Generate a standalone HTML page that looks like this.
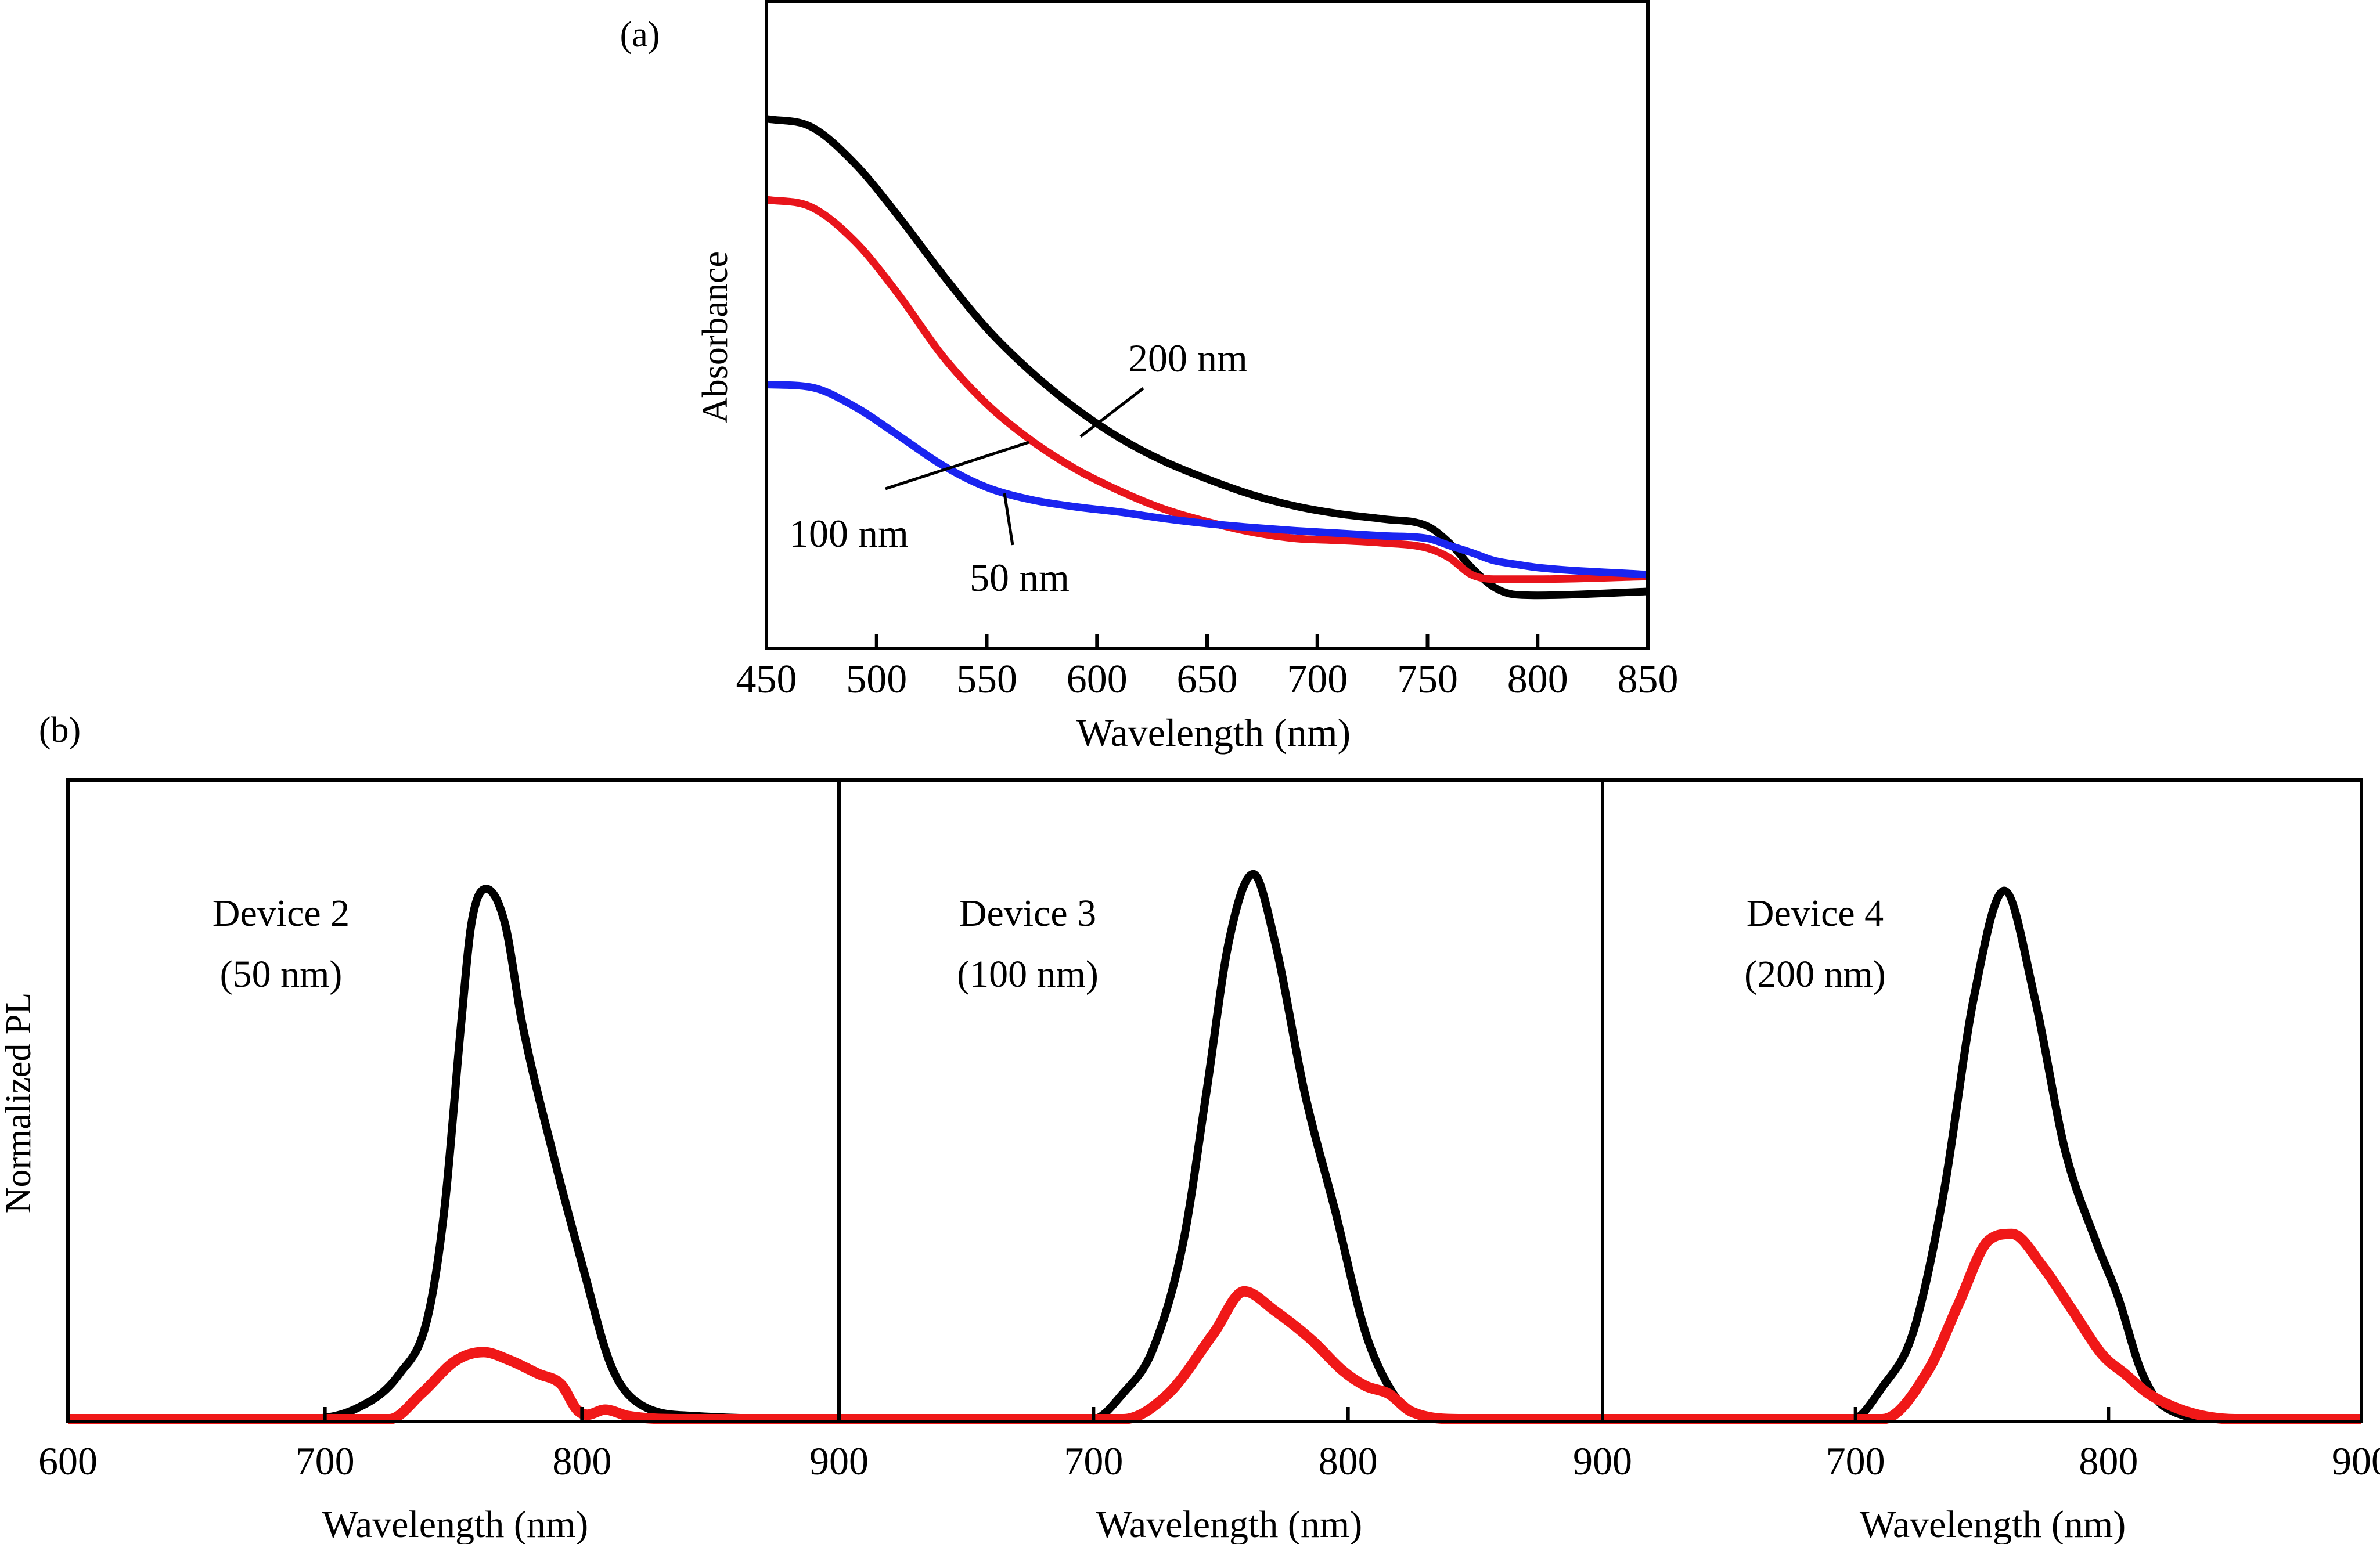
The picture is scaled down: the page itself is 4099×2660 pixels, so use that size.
<!DOCTYPE html>
<html><head><meta charset="utf-8"><style>
html,body{margin:0;padding:0;background:#fff;}
svg{display:block;}
text{font-family:"Liberation Serif",serif;fill:#000;}
</style></head>
<body>
<svg id="fig" width="4099" height="2660" viewBox="0 0 4099 2660" xmlns="http://www.w3.org/2000/svg">
<rect width="4099" height="2660" fill="#fff"/>
<g id="topchart"></g>
<g id="bottom"></g>
</svg>
<script>
// ---------- Panel (a) data ----------
const absX = [450,470,490,510,530,550,570,590,610,630,650,670,690,710,730,750,760,770,780,790,800,850];
const abs200 = [81.9,80.7,75,66.8,57.8,49.5,42.8,37.2,32.6,29,26.2,23.8,22,20.8,20,18.9,16.3,12.5,9.5,8.3,8.2,8.8];
const abs100 = [69.4,68.3,63,54.7,45.2,37.8,32.2,27.8,24.4,21.6,19.6,18,17,16.7,16.3,15.5,14,11.4,10.7,10.7,10.7,11.1];
const abs50  = [40.8,40.4,37.4,32.9,28.3,24.9,23,21.9,21.1,20.1,19.3,18.7,18.2,17.8,17.4,17,15.9,14.8,13.6,13,12.5,11.4];
const absTicks = [450,500,550,600,650,700,750,800,850];

// ---------- Panel (b) data ----------
const plTicks = [600,700,800,900];
const p1BlackX = [600,688,711.8,729,740,746.5,753,757,762.7,770,776.7,789.7,800.5,811.3,822,843.8,900];
const p1BlackY = [0,0,0.016,0.071,0.16,0.33,0.62,0.776,0.83,0.776,0.62,0.40,0.236,0.084,0.025,0.005,0];
const p1RedX = [600,725,738,751,761.6,772,783,792,798,802,809,818,840,900];
const p1RedY = [0,0,0.042,0.092,0.105,0.092,0.071,0.054,0.015,0.007,0.015,0.005,0,0];
const p2BlackX = [600,699.6,711.5,723.4,735.4,744.3,753.3,762.8,771.1,783,795,806.9,815.9,824.8,845,900];
const p2BlackY = [0,0,0.04,0.11,0.28,0.51,0.75,0.853,0.75,0.51,0.325,0.135,0.052,0.012,0,0];
const p2RedX = [600,711.5,729.4,747.3,759.2,771.1,786,797.9,806.9,815.9,824.8,845,900];
const p2RedY = [0,0,0.04,0.135,0.2,0.17,0.123,0.076,0.052,0.04,0.012,0,0];
const p3BlackX = [600,698.6,710.6,722.7,734.7,746.8,758.8,770.8,782.9,794.9,803.9,812.9,821.9,845,900];
const p3BlackY = [0,0,0.05,0.135,0.35,0.66,0.827,0.66,0.42,0.28,0.19,0.076,0.02,0,0];
const p3RedX = [600,710.6,728.7,740.7,752.7,761.8,773.8,785.8,797.8,806.8,815.8,830.9,850,900];
const p3RedY = [0,0,0.076,0.18,0.28,0.29,0.24,0.17,0.1,0.07,0.04,0.012,0,0];
const plPanels = ["Device 2","Device 3","Device 4"];
const plThick = ["(50 nm)","(100 nm)","(200 nm)"];

const NS = "http://www.w3.org/2000/svg";
function mk(tag, attrs, parent){const e=document.createElementNS(NS,tag);for(const k in attrs)e.setAttribute(k,attrs[k]);parent.appendChild(e);return e;}
// monotone cubic (Fritsch-Carlson) path, no overshoot
function smoothPath(pts){
  const n=pts.length;
  const dx=[],m=[],t=new Array(n);
  for(let i=0;i<n-1;i++){dx.push(pts[i+1][0]-pts[i][0]);m.push((pts[i+1][1]-pts[i][1])/dx[i]);}
  t[0]=m[0];t[n-1]=m[n-2];
  for(let i=1;i<n-1;i++){t[i]=(m[i-1]*m[i]<=0)?0:(m[i-1]+m[i])/2;}
  for(let i=0;i<n-1;i++){
    if(m[i]===0){t[i]=0;t[i+1]=0;continue;}
    const a=t[i]/m[i],b=t[i+1]/m[i],s=a*a+b*b;
    if(s>9){const k=3/Math.sqrt(s);t[i]=k*a*m[i];t[i+1]=k*b*m[i];}
  }
  let d="M"+pts[0][0].toFixed(1)+","+pts[0][1].toFixed(1);
  for(let i=0;i<n-1;i++){
    const h=dx[i]/3;
    d+=" C"+(pts[i][0]+h).toFixed(1)+","+(pts[i][1]+t[i]*h).toFixed(1)+" "+(pts[i+1][0]-h).toFixed(1)+","+(pts[i+1][1]-t[i+1]*h).toFixed(1)+" "+pts[i+1][0].toFixed(1)+","+pts[i+1][1].toFixed(1);
  }
  return d;
}

// ---------- Draw panel (a) ----------
const topG = document.getElementById('topchart');
const aL=1320,aR=2838,aT=3,aB=1117;
const ax = v => aL+(v-450)/(850-450)*(aR-aL);
const ay = v => aB-(v/100)*(aB-aT);
function drawAbs(ys,color,name){
  const p=mk('path',{d:smoothPath(absX.map((x,i)=>[ax(x),ay(ys[i])])),fill:'none',stroke:color,'stroke-width':13,'stroke-linejoin':'round'},topG);
  
  
}
drawAbs(abs200,'#000','curve-200nm');
drawAbs(abs100,'#e8141b','curve-100nm');
drawAbs(abs50,'#1a24f0','curve-50nm');
const frA=mk('rect',{x:aL,y:aT,width:aR-aL,height:aB-aT,fill:'none',stroke:'#000','stroke-width':6},topG);


absTicks.forEach(t=>{
  const l=mk('line',{x1:ax(t),x2:ax(t),y1:aB,y2:aB-25,stroke:'#000','stroke-width':6},topG);
  
  
  const tx=mk('text',{x:ax(t),y:1193,'font-size':70,'text-anchor':'middle'},topG);
  tx.textContent=t;
  
  
});

function T(x,y,s,txt,name,extra){const e=document.createElementNS(NS,'text');e.setAttribute('x',x);e.setAttribute('y',y);e.setAttribute('font-size',s);e.setAttribute('text-anchor','middle');if(extra)e.setAttribute('transform',extra);e.textContent=txt;


topG.appendChild(e);return e;}
function Ln(x1,y1,x2,y2,name){const e=document.createElementNS(NS,'line');e.setAttribute('x1',x1);e.setAttribute('y1',y1);e.setAttribute('x2',x2);e.setAttribute('y2',y2);e.setAttribute('stroke','#000');e.setAttribute('stroke-width',5);


topG.appendChild(e);}
T(1102,80,62,'(a)','panel-label-a');
T(2090,1285,68,'Wavelength (nm)','x-axis-title-a');
T(1252,581,62,'Absorbance','y-axis-title-a','rotate(-90 1252 581)');
T(2046,640,68,'200 nm','annotation-200nm');
T(1462,942,68,'100 nm','annotation-100nm');
T(1756,1018,68,'50 nm','annotation-50nm');
Ln(1969,669,1861,752,'leader-200nm');
Ln(1525,842,1772,762,'leader-100nm');
Ln(1730,850,1744,939,'leader-50nm');

// ---------- Draw panel (b) ----------
const g=document.getElementById('bottom');
const bT=1344,bB=2449,base=2445;
const edges=[117,1445,2760,4067];
const series=[[p1BlackX,p1BlackY,p1RedX,p1RedY],[p2BlackX,p2BlackY,p2RedX,p2RedY],[p3BlackX,p3BlackY,p3RedX,p3RedY]];
for(let i=0;i<3;i++){
  const L=edges[i],R=edges[i+1];
  const px=v=>L+(v-600)/300*(R-L);
  const py=v=>base-v*(base-bT);
  const s=series[i];
  const b=mk('path',{d:smoothPath(s[0].map((x,j)=>[px(x),py(s[1][j])])),fill:'none',stroke:'#000','stroke-width':14,'stroke-linejoin':'round'},g);
  
  
  const r=mk('path',{d:smoothPath(s[2].map((x,j)=>[px(x),py(s[3][j])])),fill:'none',stroke:'#f01818','stroke-width':18,'stroke-linejoin':'round'},g);
  
  
  plTicks.forEach(t=>{
    if(t>600&&t<900){
      const tk=mk('line',{x1:px(t),x2:px(t),y1:bB,y2:bB-25,stroke:'#000','stroke-width':6},g);
      
      
    }
    if(t===600 && i>0) return;
    const tx=mk('text',{x:px(t),y:2540,'font-size':68,'text-anchor':'middle'},g);
    tx.textContent=t;
    
    
  });
  const cx=[484,1770,3126][i];
  const d1=mk('text',{x:cx,y:1595,'font-size':66,'text-anchor':'middle'},g);
  d1.textContent=plPanels[i];
  
  
  const d2=mk('text',{x:cx,y:1700,'font-size':66,'text-anchor':'middle'},g);
  d2.textContent=plThick[i];
  
  
  const xt=mk('text',{x:[784,2117,3432][i],y:2648,'font-size':66,'text-anchor':'middle'},g);
  xt.textContent='Wavelength (nm)';
  
  
}
const frB=mk('rect',{x:117,y:bT,width:4067-117,height:bB-bT,fill:'none',stroke:'#000','stroke-width':6},g);


[1445,2760].forEach((x,k)=>{
  const dv=mk('line',{x1:x,x2:x,y1:bT,y2:bB,stroke:'#000','stroke-width':6},g);
  
  
});
const yl=mk('text',{x:52,y:1900,'font-size':62,'text-anchor':'middle',transform:'rotate(-90 52 1900)'},g);
yl.textContent='Normalized PL';


const lb=mk('text',{x:103,y:1278,'font-size':62,'text-anchor':'middle'},g);
lb.textContent='(b)';


</script>
</body></html>
